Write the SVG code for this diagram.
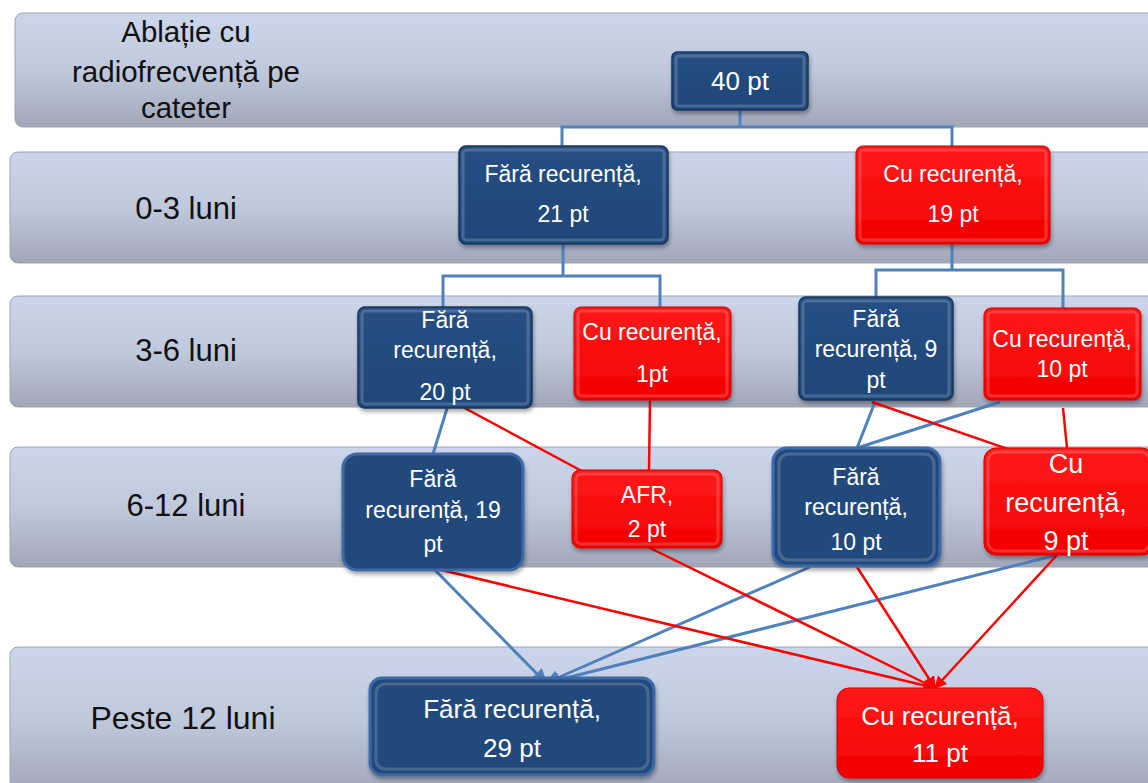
<svg xmlns="http://www.w3.org/2000/svg" width="1148" height="783" viewBox="0 0 1148 783">
<defs>
<linearGradient id="band" x1="0" y1="0" x2="0" y2="1">
<stop offset="0" stop-color="#CCD6EA"/>
<stop offset="0.5" stop-color="#C0C9DC"/>
<stop offset="1" stop-color="#A0A7B9"/>
</linearGradient>
<linearGradient id="blueG" x1="0" y1="0" x2="0" y2="1">
<stop offset="0" stop-color="#264F83"/>
<stop offset="1" stop-color="#1F4679"/>
</linearGradient>
<linearGradient id="redG" x1="0" y1="0" x2="0" y2="1">
<stop offset="0" stop-color="#FF1A1A"/>
<stop offset="1" stop-color="#F20000"/>
</linearGradient>
<filter id="sh" x="-10%" y="-10%" width="125%" height="130%">
<feDropShadow dx="1" dy="3" stdDeviation="2" flood-color="#000" flood-opacity="0.35"/>
</filter>
<marker id="arB" viewBox="0 0 10 10" refX="9" refY="5" markerWidth="5" markerHeight="5" orient="auto" markerUnits="strokeWidth">
<path d="M0,0 L10,5 L0,10 z" fill="#4F81BD"/>
</marker>
<marker id="arR" viewBox="0 0 10 10" refX="9" refY="5" markerWidth="5" markerHeight="5" orient="auto" markerUnits="strokeWidth">
<path d="M0,0 L10,5 L0,10 z" fill="#FF0000"/>
</marker>
<style>
.band{fill:url(#band);stroke:#9CA3B4;stroke-width:1}
.lbl{font-family:"Liberation Sans",Arial,sans-serif;font-size:31px;fill:#111;text-anchor:middle}
.lbt{font-family:"Liberation Sans",Arial,sans-serif;font-size:29.5px;fill:#111;text-anchor:middle}
.nb{fill:url(#blueG);stroke:#17365F;stroke-width:1.5;filter:url(#sh)}
.nb2{fill:#224A7C;stroke:#3D6BA6;stroke-width:3;filter:url(#sh)}
.nr{fill:url(#redG);stroke:#D00000;stroke-width:1;filter:url(#sh)}
.bev{fill:none;stroke:#FFFFFF;stroke-opacity:0.18;stroke-width:3}
.t{font-family:"Liberation Sans",Arial,sans-serif;font-size:23px;fill:#FFFFFF;text-anchor:middle}
.tb{font-family:"Liberation Sans",Arial,sans-serif;font-size:27px;fill:#FFFFFF;text-anchor:middle}
.tl{font-family:"Liberation Sans",Arial,sans-serif;font-size:26px;fill:#FFFFFF;text-anchor:middle}
.cb{fill:none;stroke:#4F81BD;stroke-width:3}
.cr{fill:none;stroke:#FF0000;stroke-width:2.5}
</style>
</defs>
<rect width="1148" height="783" fill="#FFFFFF"/>

<g id="bands">
<rect class="band" x="15" y="13" width="1150" height="114" rx="8"/>
<rect class="band" x="10" y="152" width="1155" height="111" rx="8"/>
<rect class="band" x="10" y="296" width="1155" height="111" rx="8"/>
<rect class="band" x="10" y="447" width="1155" height="120" rx="8"/>
<rect class="band" x="10" y="647" width="1155" height="145" rx="8"/>
</g>

<g id="row-labels">
<text class="lbt" x="186" y="42">Ablație cu</text>
<text class="lbt" x="186" y="82">radiofrecvență pe</text>
<text class="lbt" x="186" y="118">cateter</text>
<text class="lbl" x="186" y="219">0-3 luni</text>
<text class="lbl" x="186" y="361">3-6 luni</text>
<text class="lbl" x="186" y="516">6-12 luni</text>
<text class="lbl" x="183" y="729" style="font-size:32px">Peste 12 luni</text>
</g>

<g id="connectors">
<path class="cb" d="M740,110 V127 M562,146 V127 H952 V146"/>
<path class="cb" d="M563,244 V276 M443,307 V276 H660 V307"/>
<path class="cb" d="M952,244 V270 M876,297 V270 H1063 V308"/>
<line class="cb" x1="449" y1="402" x2="433" y2="454"/>
<line class="cr" x1="459" y1="405" x2="604" y2="483"/>
<line class="cr" x1="650" y1="400" x2="649" y2="470"/>
<line class="cb" x1="875" y1="402" x2="857" y2="448"/>
<line class="cb" x1="1000" y1="402" x2="857" y2="448"/>
<line class="cr" x1="872" y1="402" x2="1028" y2="456"/>
<line class="cr" x1="1063" y1="408" x2="1067" y2="448"/>
<line class="cb" x1="433" y1="568" x2="546" y2="683" marker-end="url(#arB)"/>
<line class="cb" x1="810" y1="567" x2="546" y2="683" marker-end="url(#arB)"/>
<line class="cb" x1="1057" y1="555" x2="546" y2="683" marker-end="url(#arB)"/>
<line class="cr" x1="433" y1="568" x2="935" y2="688" marker-end="url(#arR)"/>
<line class="cr" x1="650" y1="548" x2="935" y2="688" marker-end="url(#arR)"/>
<line class="cr" x1="857" y1="567" x2="935" y2="688" marker-end="url(#arR)"/>
<line class="cr" x1="1057" y1="555" x2="935" y2="688" marker-end="url(#arR)"/>
</g>

<g id="n40">
<rect class="nb" x="672" y="52" width="136" height="58" rx="5"/>
<rect class="bev" x="676" y="56" width="128" height="50" rx="3"/>
<text class="t" x="740" y="90" style="font-size:26px">40 pt</text>
</g>

<g id="n21">
<rect class="nb" x="459" y="146" width="209" height="98" rx="7"/>
<rect class="bev" x="463" y="150" width="201" height="90" rx="4"/>
<text class="t" x="563" y="182">Fără recurență,</text>
<text class="t" x="563" y="222">21 pt</text>
</g>

<g id="n19r">
<rect class="nr" x="856" y="146" width="194" height="98" rx="7"/>
<rect class="bev" x="860" y="150" width="186" height="90" rx="4"/>
<text class="t" x="953" y="182">Cu recurență,</text>
<text class="t" x="953" y="222">19 pt</text>
</g>

<g id="n20">
<rect class="nb" x="358" y="307" width="174" height="101" rx="7"/>
<rect class="bev" x="362" y="311" width="166" height="93" rx="4"/>
<text class="t" x="445" y="328">Fără</text>
<text class="t" x="445" y="358">recurență,</text>
<text class="t" x="445" y="400">20 pt</text>
</g>

<g id="n1r">
<rect class="nr" x="574" y="307" width="157" height="93" rx="7"/>
<rect class="bev" x="578" y="311" width="149" height="85" rx="4"/>
<text class="t" x="652" y="340">Cu recurență,</text>
<text class="t" x="652" y="382">1pt</text>
</g>

<g id="n9">
<rect class="nb" x="799" y="297" width="154" height="103" rx="7"/>
<rect class="bev" x="803" y="301" width="146" height="95" rx="4"/>
<text class="t" x="876" y="327">Fără</text>
<text class="t" x="876" y="357">recurență, 9</text>
<text class="t" x="876" y="388">pt</text>
</g>

<g id="n10r">
<rect class="nr" x="984" y="308" width="157" height="92" rx="7"/>
<rect class="bev" x="988" y="312" width="149" height="84" rx="4"/>
<text class="t" x="1062" y="347">Cu recurență,</text>
<text class="t" x="1062" y="377">10 pt</text>
</g>

<g id="n19b">
<rect class="nb2" x="343" y="454" width="180" height="116" rx="14"/>
<text class="t" x="433" y="487">Fără</text>
<text class="t" x="433" y="518">recurență, 19</text>
<text class="t" x="433" y="552">pt</text>
</g>

<g id="nAFR">
<rect class="nr" x="572" y="470" width="150" height="78" rx="8"/>
<rect class="bev" x="576" y="474" width="142" height="70" rx="5"/>
<text class="t" x="647" y="503">AFR,</text>
<text class="t" x="647" y="537">2 pt</text>
</g>

<g id="n10b">
<rect class="nb2" x="773" y="448" width="167" height="118" rx="14"/>
<rect class="bev" x="779" y="454" width="155" height="106" rx="10"/>
<text class="t" x="856" y="485">Fără</text>
<text class="t" x="856" y="515">recurență,</text>
<text class="t" x="856" y="550">10 pt</text>
</g>

<g id="n9r">
<rect class="nr" x="984" y="448" width="170" height="107" rx="12"/>
<rect class="bev" x="988" y="452" width="162" height="99" rx="9"/>
<text class="tb" x="1066" y="473">Cu</text>
<text class="tb" x="1066" y="512">recurență,</text>
<text class="tb" x="1066" y="550">9 pt</text>
</g>

<g id="n29">
<rect class="nb2" x="370" y="678" width="284" height="97" rx="12"/>
<rect class="bev" x="376" y="684" width="272" height="85" rx="9"/>
<text class="tl" x="512" y="718">Fără recurență,</text>
<text class="tl" x="512" y="757">29 pt</text>
</g>

<g id="n11r">
<rect class="nr" x="837" y="688" width="206" height="90" rx="12"/>
<text class="tl" x="940" y="725">Cu recurență,</text>
<text class="tl" x="940" y="762">11 pt</text>
</g>
</svg>
